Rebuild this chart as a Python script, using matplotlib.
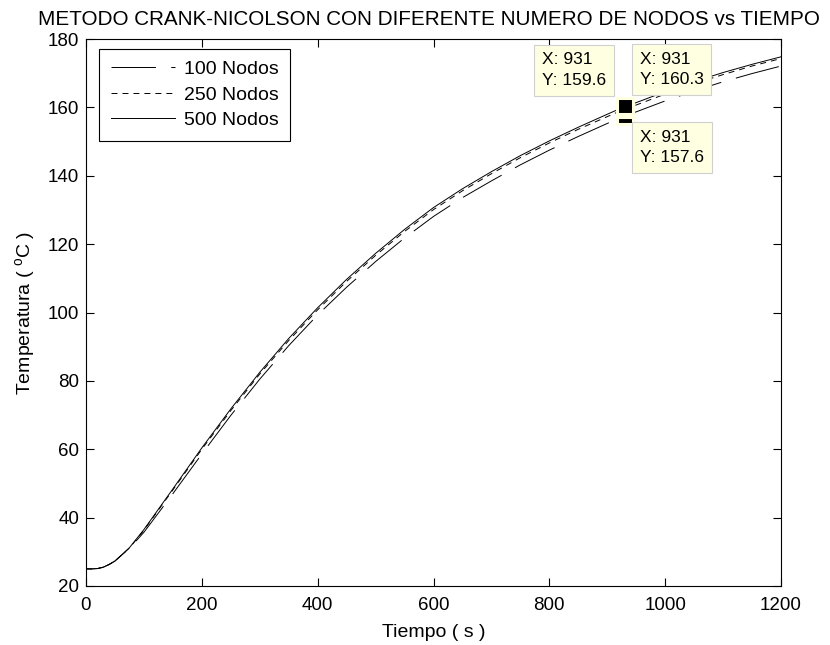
## Crank-Nicolson: temperatura vs tiempo para distinto numero de nodos

import matplotlib
matplotlib.use('Agg')
import matplotlib.pyplot as plt

plt.rcParams['font.family'] = ['Liberation Sans', 'DejaVu Sans']
plt.rcParams['mathtext.fontset'] = 'custom'
plt.rcParams['mathtext.rm'] = 'Liberation Sans'
plt.rcParams['lines.scale_dashes'] = False

## DATA
tiempo = [0, 10, 20, 30, 40, 50, 75, 100, 150, 200, 250, 300, 350, 400, 450, 500,
          550, 600, 650, 700, 750, 800, 850, 900, 931, 950, 1000, 1050, 1100, 1150, 1200]

temp_100 = [25, 25, 25.1, 25.5, 26.3, 27.3, 31.0, 35.7, 47.0, 58.6, 69.9, 80.5, 90.3,
            99.3, 107.4, 114.9, 121.8, 128.1, 133.6, 138.5, 143.2, 147.5, 151.5, 155.3,
            157.6, 158.7, 161.9, 164.8, 167.5, 169.9, 172.1]
temp_250 = [25, 25, 25.1, 25.5, 26.3, 27.3, 31.1, 36.3, 48.1, 60.0, 71.3, 82.0, 91.8,
            100.8, 109.1, 116.7, 123.7, 130.1, 135.6, 140.6, 145.3, 149.6, 153.6, 157.3,
            159.6, 160.7, 163.9, 166.9, 169.6, 172.1, 174.3]
temp_500 = [25, 25, 25.1, 25.5, 26.3, 27.3, 31.2, 36.5, 48.4, 60.4, 71.8, 82.5, 92.4,
            101.4, 109.7, 117.3, 124.3, 130.7, 136.2, 141.2, 145.9, 150.2, 154.2, 158.0,
            160.3, 161.4, 164.6, 167.5, 170.2, 172.6, 174.8]

etiquetas = ['100 Nodos', '250 Nodos', '500 Nodos']

# datatips: punto marcado y esquina superior izquierda del texto
tip_x = 931
tip_y = [157.6, 159.6, 160.3]
tip_txt = [(956, 153.4), (787, 176.1), (956, 176.3)]

fig = plt.figure(figsize=(8.3, 6.45), dpi=100)
ax = fig.add_axes([0.1036, 0.0915, 0.8374, 0.848])

ax.plot(tiempo, temp_100, color='black', lw=0.7, linestyle=(0, (32, 11)), label=etiquetas[0])
ax.plot(tiempo, temp_250, color='black', lw=0.7, linestyle=(0, (4.3, 3.6)), label=etiquetas[1])
ax.plot(tiempo, temp_500, color='black', lw=0.7, linestyle='-', label=etiquetas[2])

## datatip markers, bottom one first so the upper ones cover it
for yv in tip_y:
    ax.plot(tip_x, yv, marker='s', ms=11.5, mfc='black', mec='#FFFFE1', mew=2.2,
            linestyle='none', zorder=5)

for (tx, ty), yv in zip(tip_txt, tip_y):
    ax.text(tx, ty, 'X: %d\nY: %.1f' % (tip_x, yv), fontsize=12.5, ha='left', va='top',
            linespacing=1.45, zorder=6,
            bbox=dict(boxstyle='square,pad=0.45', fc='#FFFFE1', ec='#D0D0D0', lw=0.8))

ax.set_xlim(0, 1200)
ax.set_ylim(20, 180)
ax.set_xticks(range(0, 1201, 200))
ax.set_yticks(range(20, 181, 20))
ax.tick_params(direction='in', length=5.5, width=0.8, top=True, right=True,
               labelsize=13.5)
ax.tick_params(axis='x', pad=8)
ax.tick_params(axis='y', pad=5)
for s in ax.spines.values():
    s.set_linewidth(0.8)

ax.set_xlabel('Tiempo ( s )', fontsize=14, labelpad=7)
ax.set_ylabel(r'Temperatura ( $^{\mathrm{o}}$C )', fontsize=14, labelpad=7)
ax.set_title('METODO CRANK-NICOLSON CON DIFERENTE NUMERO DE NODOS vs TIEMPO',
             fontsize=14.85, pad=10, x=0.493)

leg = ax.legend(loc='upper left', bbox_to_anchor=(0.019, 0.982), fontsize=14,
                handlelength=3.3, handletextpad=0.45, labelspacing=0.4,
                borderpad=0.6, borderaxespad=0, fancybox=False, framealpha=1)
leg.get_frame().set_edgecolor('black')
leg.get_frame().set_linewidth(0.8)

fig.savefig('out.png', dpi=100)
